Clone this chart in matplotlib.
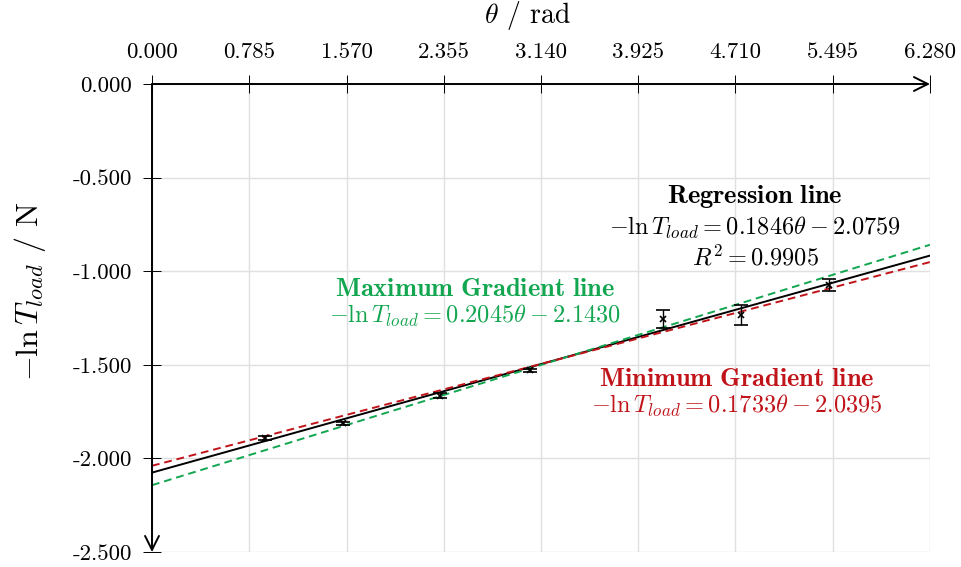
import numpy as np
import matplotlib
matplotlib.use("Agg")
import matplotlib.pyplot as plt

plt.rcParams['font.family'] = 'serif'
plt.rcParams['font.serif'] = ['cmr10']
plt.rcParams['mathtext.fontset'] = 'cm'
plt.rcParams['axes.unicode_minus'] = False
plt.rcParams['axes.formatter.use_mathtext'] = True

theta = [0.912, 1.539, 2.325, 3.051, 4.127, 4.754, 5.464]
neg_ln_T = [-1.891, -1.813, -1.665, -1.528, -1.255, -1.234, -1.074]
y_err = [0.010, 0.010, 0.012, 0.008, 0.050, 0.052, 0.030]

reg_m, reg_c = 0.1846, -2.0759
max_m, max_c = 0.2045, -2.1430
min_m, min_c = 0.1733, -2.0395

x_ticks = [0.000, 0.785, 1.570, 2.355, 3.140, 3.925, 4.710, 5.495, 6.280]
x_tick_labels = ["0.000", "0.785", "1.570", "2.355", "3.140", "3.925", "4.710", "5.495", "6.280"]
y_ticks = [0.0, -0.5, -1.0, -1.5, -2.0, -2.5]
y_tick_labels = ["0.000", "-0.500", "-1.000", "-1.500", "-2.000", "-2.500"]

green = '#12a650'
red = '#c0141a'

fig = plt.figure(figsize=(9.62, 5.67), dpi=100)
ax = fig.add_axes([152/962, 15/567, 778/962, 468/567])

xs = np.array([0.0, 6.28])
ax.plot(xs, reg_m*xs + reg_c, color='black', lw=1.4, zorder=3)
ax.plot(xs, max_m*xs + max_c, color=green, lw=1.4, ls=(0, (4, 2.5)), zorder=3)
ax.plot(xs, min_m*xs + min_c, color=red, lw=1.4, ls=(0, (4, 2.5)), zorder=3)
ax.errorbar(theta, neg_ln_T, yerr=y_err, fmt='x', color='black', ms=4, mew=1.2,
            capsize=5, elinewidth=1.0, capthick=1.0, zorder=4)

ax.set_xlim(0, 6.28)
ax.set_ylim(-2.5, 0)
ax.set_xticks(x_ticks)
ax.set_xticklabels(x_tick_labels)
ax.set_yticks(y_ticks)
ax.set_yticklabels(y_tick_labels)
ax.xaxis.tick_top()
ax.tick_params(axis='x', direction='inout', length=13, width=0.7, labelsize=16.5, pad=9)
ax.tick_params(axis='y', direction='inout', length=13, width=0.7, labelsize=16.5, pad=8)
ax.grid(True, color='#e0e0e0', lw=1.0)
for s in ['bottom', 'right', 'top', 'left']:
    ax.spines[s].set_visible(False)

ax.annotate('', xy=(1.0, 1.0), xytext=(0.0, 1.0), xycoords='axes fraction',
            arrowprops=dict(arrowstyle='->', lw=1.4, color='black', mutation_scale=25,
                            shrinkA=0, shrinkB=0), annotation_clip=False)
ax.annotate('', xy=(0.0, 0.0), xytext=(0.0, 1.0), xycoords='axes fraction',
            arrowprops=dict(arrowstyle='->', lw=1.4, color='black', mutation_scale=25,
                            shrinkA=0, shrinkB=0), annotation_clip=False)

ax.text((527-152)/778, 1.0 + (84-15)/468, r'$\theta$ / rad', transform=ax.transAxes,
        ha='center', va='center', fontsize=20)
ax.text(-(152-30)/778, 1-(291-84)/468, r'$-\ln T_{load}$ / N', transform=ax.transAxes,
        ha='center', va='center', fontsize=23, rotation=90)

fs = 17.5
fsb = 19
def px(xp, yp):
    return ((xp - 152) / 778 * 6.28, -(yp - 84) / 468 * 2.5)

ax.text(*px(755, 197), r'$\mathbf{Regression\ line}$', ha='center', va='center', fontsize=fsb, color='black')
ax.text(*px(755, 228), r'$-\ln T_{load} = 0.1846\theta - 2.0759$', ha='center', va='center', fontsize=fs, color='black')
ax.text(*px(755, 258), r'$R^2 = 0.9905$', ha='center', va='center', fontsize=fs, color='black')

ax.text(*px(475, 289), r'$\mathbf{Maximum\ Gradient\ line}$', ha='center', va='center', fontsize=fsb, color=green)
ax.text(*px(475, 316), r'$-\ln T_{load} = 0.2045\theta - 2.1430$', ha='center', va='center', fontsize=fs, color=green)

ax.text(*px(737, 379), r'$\mathbf{Minimum\ Gradient\ line}$', ha='center', va='center', fontsize=fsb, color=red)
ax.text(*px(737, 406), r'$-\ln T_{load} = 0.1733\theta - 2.0395$', ha='center', va='center', fontsize=fs, color=red)

fig.savefig('out.png', dpi=100)
